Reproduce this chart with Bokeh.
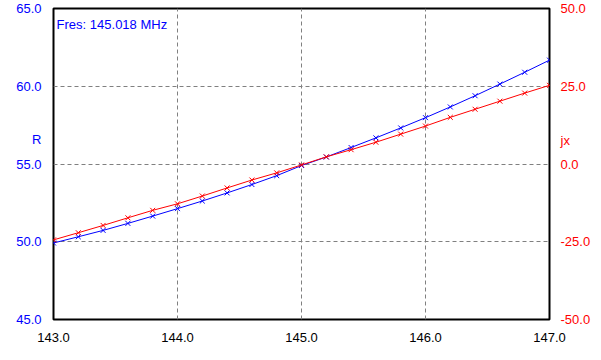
from bokeh.plotting import figure
from bokeh.models import Range1d, LinearAxis, FixedTicker, PrintfTickFormatter, Label
from bokeh.embed import file_html
from bokeh.resources import INLINE

freq = [143.0, 143.2, 143.4, 143.6, 143.8, 144.0, 144.2, 144.4, 144.6, 144.8,
        145.0, 145.2, 145.4, 145.6, 145.8, 146.0, 146.2, 146.4, 146.6, 146.8, 147.0]
r_vals = [49.92, 50.32, 50.73, 51.18, 51.65, 52.13, 52.62, 53.14, 53.68, 54.25,
          54.90, 55.45, 56.06, 56.68, 57.32, 57.98, 58.67, 59.39, 60.14, 60.90, 61.68]
jx_vals = [-24.4, -22.1, -19.75, -17.3, -14.9, -12.8, -10.3, -7.7, -5.15, -2.85,
           -0.3, 2.3, 4.6, 7.0, 9.6, 12.2, 15.0, 17.6, 20.2, 22.8, 25.3]
x_ticks = [143.0, 144.0, 145.0, 146.0, 147.0]
r_ticks = [45.0, 50.0, 55.0, 60.0, 65.0]
jx_ticks = [-50.0, -25.0, 0.0, 25.0, 50.0]
r_name, r_name_pos = "R", 56.55
jx_name, jx_name_pos = "jx", 7.4
fres_text = "Fres: 145.018 MHz"

FONT = "Liberation Sans"
FS = "13px"

p = figure(width=593, height=344, output_backend="svg", toolbar_location=None,
           x_range=Range1d(143, 147), y_range=Range1d(45, 65),
           min_border_left=53, min_border_right=30, min_border_top=8, min_border_bottom=18,
           background_fill_color="white", border_fill_color="white")
p.extra_y_ranges = {"jx": Range1d(-50, 50)}

p.outline_line_color = "black"
p.outline_line_width = 2

# grids (interior only)
p.xgrid.ticker = FixedTicker(ticks=x_ticks[1:-1])
p.ygrid.ticker = FixedTicker(ticks=r_ticks[1:-1])
for g in (p.xgrid, p.ygrid):
    g.grid_line_color = "#808080"
    g.grid_line_dash = "4 3"
    g.grid_line_width = 1

def style_axis(ax, color, standoff):
    ax.major_tick_line_color = None
    ax.minor_tick_line_color = None
    ax.axis_line_color = None
    ax.major_label_text_color = color
    ax.major_label_text_font = FONT
    ax.major_label_text_font_size = FS
    ax.major_label_standoff = standoff
    ax.formatter = PrintfTickFormatter(format="%.1f")

xa = p.xaxis[0]
xa.ticker = FixedTicker(ticks=x_ticks)
style_axis(xa, "black", 7)

ya = p.yaxis[0]
ya.ticker = FixedTicker(ticks=sorted(r_ticks + [r_name_pos]))
style_axis(ya, "#0000ff", 6)
ya.major_label_overrides = {r_name_pos: r_name}

ra = LinearAxis(y_range_name="jx", ticker=FixedTicker(ticks=sorted(jx_ticks + [jx_name_pos])))
style_axis(ra, "#ff0000", 5)
ra.major_label_overrides = {jx_name_pos: jx_name}
p.add_layout(ra, "right")

# series
p.line(freq, r_vals, line_color="#0000ff", line_width=1)
p.scatter(freq, r_vals, marker="x", size=7, line_color="#0000ff", line_width=1)
p.line(freq, jx_vals, line_color="#ff0000", line_width=1, y_range_name="jx")
p.scatter(freq, jx_vals, marker="x", size=7, line_color="#ff0000", line_width=1, y_range_name="jx")

# annotation
p.add_layout(Label(x=143.025, y=64.0, text=fres_text, text_color="#0000ff",
                   text_font=FONT, text_font_size=FS, text_align="left",
                   text_baseline="middle"))

open("out.html", "w").write(file_html(p, INLINE))
